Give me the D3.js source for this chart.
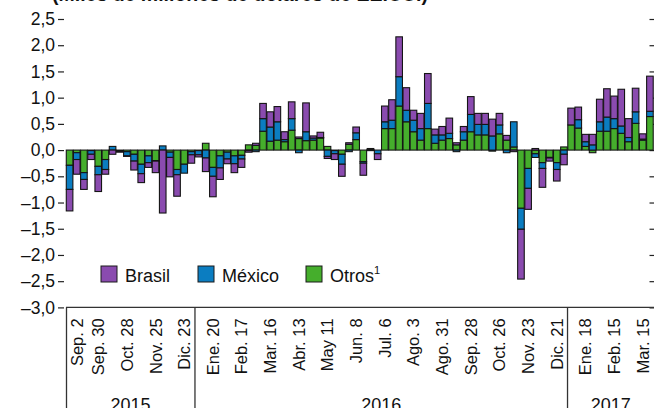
<!DOCTYPE html>
<html lang="es">
<head>
<meta charset="UTF-8">
<title>Flujos por semana</title>
<script src="https://d3js.org/d3.v7.min.js"></script>
<style>
  body { margin: 0; background: #fff; }
  svg { display: block; font-family: "Liberation Sans", Arial, sans-serif; }
  .tick-label { font-size: 17.5px; fill: #111; }
  .xlabel { font-size: 16.5px; fill: #111; }
  .legend-text { font-size: 18px; fill: #111; }
</style>
</head>
<body>
<svg id="chart" width="654" height="408"></svg>
<script>
// semanas desde sep. 2, 2015 (una barra por semana)
const weekLabels = ["Sep. 2", "Sep. 30", "Oct. 28", "Nov. 25", "Dic. 23", "Ene. 20", "Feb. 17",
  "Mar. 16", "Abr. 13", "May 11", "Jun. 8", "Jul. 6", "Ago. 3", "Ago. 31", "Sep. 28",
  "Oct. 26", "Nov. 23", "Dic. 21", "Ene. 18", "Feb. 15", "Mar. 15"];
const labelEvery = 4;

const years = ["2015", "2016", "2017"];
const yearStart = [0, 18, 70];   // primera semana de cada año

const yTicks = [2.5, 2.0, 1.5, 1.0, 0.5, 0.0, -0.5, -1.0, -1.5, -2.0, -2.5, -3.0];

const seriesNames = ["Brasil", "México", "Otros"];

const otros = [
  -0.29, -0.05, -0.43, -0.01, -0.31, -0.18, 0.00, -0.01, -0.03, -0.08,
  -0.27, -0.11, -0.20, 0.00, -0.04, -0.37, -0.27, -0.03, -0.01, 0.13,
  -0.33, -0.11, -0.04, -0.11, -0.10, 0.10, 0.09, 0.36, 0.17, 0.19,
  0.16, 0.38, 0.22, 0.18, 0.19, 0.23, 0.07, -0.01, -0.08, 0.11,
  0.20, -0.22, -0.01, 0.00, 0.41, 0.41, 0.84, 0.54, 0.35, 0.19,
  0.41, 0.13, 0.19, 0.22, 0.10, 0.19, 0.35, 0.29, 0.29, -0.02,
  0.31, 0.19, 0.06, -1.11, -0.35, -0.07, -0.24, -0.14, -0.24, 0.06,
  0.48, 0.42, 0.07, -0.05, 0.36, 0.36, 0.41, 0.32, 0.16, 0.51,
  0.19, 0.64];

const mexico = [
  -0.46, -0.13, -0.13, -0.07, -0.16, -0.19, 0.07, -0.01, -0.08, -0.13,
  -0.18, -0.13, -0.01, 0.08, -0.10, -0.10, -0.17, -0.06, -0.08, -0.15,
  -0.17, -0.23, -0.13, -0.15, -0.07, -0.01, -0.03, 0.24, 0.27, 0.35,
  0.04, 0.22, -0.05, 0.17, 0.04, 0.01, -0.12, -0.06, -0.19, -0.03,
  0.13, -0.03, 0.01, -0.07, 0.13, 0.16, 0.56, 0.22, 0.22, 0.22,
  0.48, 0.16, 0.10, 0.10, -0.03, 0.16, 0.33, 0.20, 0.20, 0.27,
  0.17, -0.05, 0.48, -0.40, -0.38, -0.07, -0.11, -0.01, -0.13, -0.08,
  0.00, 0.16, 0.09, 0.10, 0.18, 0.27, 0.19, 0.14, 0.08, 0.22,
  0.02, 0.10];

const brasil = [
  -0.41, -0.28, -0.19, -0.10, -0.32, -0.09, -0.08, -0.02, -0.01, -0.17,
  -0.17, -0.09, -0.22, -1.20, -0.37, -0.41, 0.00, -0.16, -0.04, -0.26,
  -0.39, -0.22, -0.09, -0.17, -0.16, -0.03, 0.04, 0.29, 0.29, 0.29,
  0.15, 0.32, 0.03, 0.55, 0.04, 0.10, -0.04, -0.11, -0.23, 0.03,
  0.11, -0.23, 0.02, -0.11, 0.30, 0.39, 0.76, 0.43, 0.19, 0.29,
  0.57, 0.11, 0.16, 0.29, 0.04, 0.10, 0.34, 0.21, 0.21, 0.32,
  0.22, 0.09, -0.03, -0.95, -0.40, 0.03, -0.36, -0.06, -0.22, -0.20,
  0.32, 0.24, 0.14, 0.20, 0.43, 0.54, 0.43, 0.70, 0.36, 0.45,
  0.10, 0.67];

const colors = { brasil: "#8a4baf", mexico: "#0b7dc1", otros: "#45ae2c" };

const svg = d3.select("#chart");

const plotLeft = 66, plotRight = 653.5, plotTop = 19, plotBottom = 307.4;

const rows = otros.map((v, i) => ({ i: i, otros: v, mexico: mexico[i], brasil: brasil[i] }));

const x = d3.scaleBand()
    .domain(rows.map(d => d.i))
    .range([plotLeft, plotRight])
    .paddingInner(0.08)
    .paddingOuter(0.04);

const y = d3.scaleLinear().domain([-3, 2.5]).range([plotBottom, plotTop]);

const locale = d3.formatLocale({ decimal: ",", thousands: ".", grouping: [3], currency: ["", ""], minus: "\u2013" });
const fmt = locale.format(".1f");

// titulo (cortado arriba)
svg.append("text")
    .attr("x", 52).attr("y", 0.5)
    .attr("font-size", 19.5).attr("font-weight", "bold").attr("fill", "#111")
    .text("(Miles de millones de dólares de EE.UU.)");

// eje y izquierdo
const yAxis = svg.append("g").attr("transform", `translate(${plotLeft - 2},0)`)
    .call(d3.axisLeft(y).tickValues(yTicks).tickSize(6).tickPadding(3).tickFormat(fmt));
yAxis.select(".domain").remove();
yAxis.selectAll(".tick line").attr("stroke", "#222").attr("stroke-width", 1.2);
yAxis.selectAll(".tick text").attr("class", "tick-label");
yAxis.attr("font-family", null).attr("font-size", null);

// marcas derecha
const yRight = svg.append("g").attr("transform", `translate(${plotRight - 4},0)`)
    .call(d3.axisRight(y).tickValues(yTicks).tickSize(7).tickFormat(""));
yRight.select(".domain").remove();
yRight.selectAll(".tick line").attr("stroke", "#222").attr("stroke-width", 1.2);

// barras apiladas
const keys = ["otros", "mexico", "brasil"];
const stacked = d3.stack().keys(keys).offset(d3.stackOffsetDiverging)(rows);

svg.append("g").selectAll("g")
  .data(stacked)
  .join("g")
    .attr("fill", d => colors[d.key])
  .selectAll("rect")
  .data(d => d)
  .join("rect")
    .attr("x", d => x(d.data.i))
    .attr("width", x.bandwidth())
    .attr("y", d => y(Math.max(d[0], d[1])))
    .attr("height", d => Math.abs(y(d[0]) - y(d[1])))
    .attr("stroke", "#151515")
    .attr("stroke-width", 1.1);

// marco inferior
const frame = svg.append("g").attr("stroke", "#333").attr("stroke-width", 1.3);
frame.append("line").attr("x1", plotLeft).attr("x2", 654).attr("y1", plotBottom).attr("y2", plotBottom);
const sep = i => x(i) - x.step() * x.paddingInner() / 2;
frame.selectAll(".ysep").data(yearStart).join("line")
    .attr("x1", d => d === 0 ? plotLeft + 0.5 : sep(d))
    .attr("x2", d => d === 0 ? plotLeft + 0.5 : sep(d))
    .attr("y1", plotBottom).attr("y2", 408);

// etiquetas de semanas
svg.append("g").selectAll("text")
  .data(weekLabels)
  .join("text")
    .attr("class", "xlabel")
    .attr("transform", (d, k) => {
      const cx = Math.max(x(k * labelEvery) + x.bandwidth() / 2, plotLeft + 11);
      return `translate(${cx},${plotBottom + 11}) rotate(-90)`;
    })
    .attr("text-anchor", "end")
    .attr("dy", "0.36em")
    .text(d => d);

// años
svg.append("g").selectAll("text")
  .data(years)
  .join("text")
    .attr("class", "legend-text")
    .attr("text-anchor", "middle")
    .attr("x", (d, k) => {
      const a = k === 0 ? plotLeft : sep(yearStart[k]);
      const b = k < years.length - 1 ? sep(yearStart[k + 1]) : 654;
      return (a + b) / 2;
    })
    .attr("y", 411)
    .text(d => d);

// leyenda
const legendX = [101, 198, 306];
const legendKeys = ["brasil", "mexico", "otros"];
const lg = svg.append("g").selectAll("g")
  .data(legendKeys)
  .join("g")
    .attr("transform", (d, k) => `translate(${legendX[k]},266)`);
lg.append("rect")
    .attr("width", 16).attr("height", 16)
    .attr("fill", d => colors[d])
    .attr("stroke", "#1a1a1a").attr("stroke-width", 1);
const lt = lg.append("text")
    .attr("class", "legend-text")
    .attr("x", 24).attr("y", 15.5)
    .text((d, k) => seriesNames[k]);
lt.filter(d => d === "otros").append("tspan")
    .attr("font-size", 11).attr("dy", -8).text("1");
</script>
</body>
</html>
